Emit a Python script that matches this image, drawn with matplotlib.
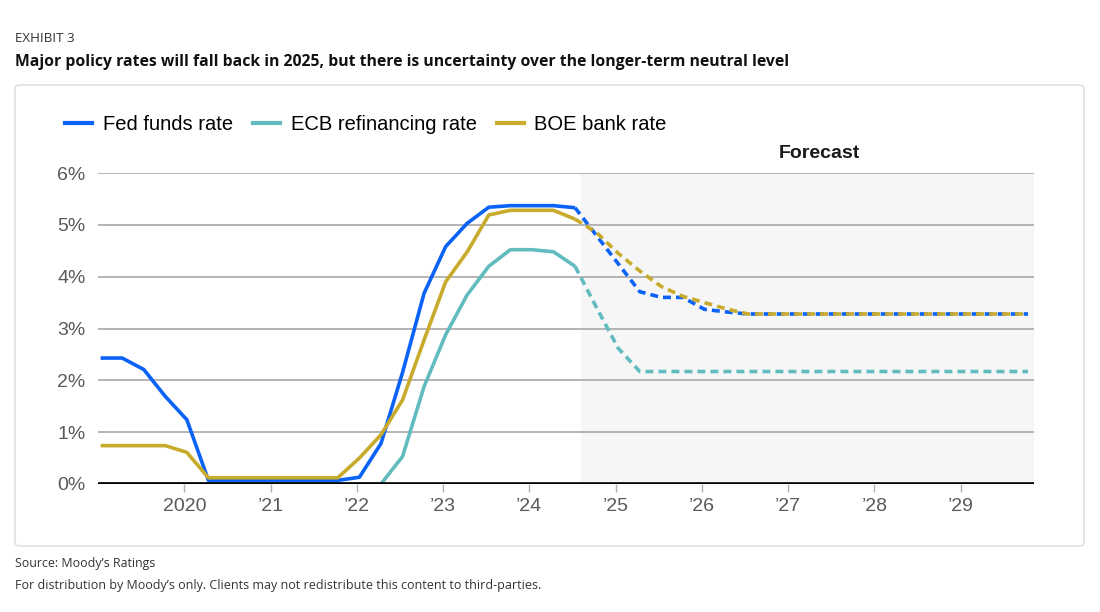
import numpy as np
import matplotlib.pyplot as plt
from matplotlib.patches import FancyBboxPatch
from matplotlib.lines import Line2D

# quarterly values, 2019Q1 .. 2029Q4 (index 22 = last actual, 2024Q3)
fed = [2.43, 2.43, 2.21, 1.69,
       1.24, 0.07, 0.07, 0.07,
       0.07, 0.07, 0.07, 0.07,
       0.13, 0.78, 2.15, 3.68,
       4.58, 5.03, 5.34, 5.37,
       5.37, 5.37, 5.33, 4.79,
       4.25, 3.71, 3.60, 3.60,
       3.37, 3.32, 3.28, 3.28,
       3.28, 3.28, 3.28, 3.28,
       3.28, 3.28, 3.28, 3.28,
       3.28, 3.28, 3.28, 3.28]
ecb = [0, 0, 0, 0,
       0, 0, 0, 0,
       0, 0, 0, 0,
       0, 0, 0.53, 1.88,
       2.88, 3.65, 4.20, 4.52,
       4.52, 4.48, 4.20, 3.40,
       2.62, 2.17, 2.17, 2.17,
       2.17, 2.17, 2.17, 2.17,
       2.17, 2.17, 2.17, 2.17,
       2.17, 2.17, 2.17, 2.17,
       2.17, 2.17, 2.17, 2.17]
boe = [0.74, 0.74, 0.74, 0.74,
       0.61, 0.12, 0.12, 0.12,
       0.12, 0.12, 0.12, 0.12,
       0.50, 0.95, 1.62, 2.78,
       3.90, 4.48, 5.19, 5.28,
       5.28, 5.28, 5.11, 4.85,
       4.45, 4.11, 3.81, 3.62,
       3.50, 3.38, 3.28, 3.28,
       3.28, 3.28, 3.28, 3.28,
       3.28, 3.28, 3.28, 3.28,
       3.28, 3.28, 3.28, 3.28]
series_names = ['Fed funds rate', 'ECB refinancing rate', 'BOE bank rate']
colors = ['#0a62f7', '#62bcbf', '#c8aa2c']
last_actual = 22
forecast_start = 2024.6
years = list(range(2020, 2030))
year_labels = ['2020'] + ['\u2019%02d' % (y % 100) for y in years[1:]]
y_ticks = [0, 1, 2, 3, 4, 5, 6]

x = 2019.03 + 0.25 * np.arange(len(fed))

W, H = 1100, 612
fig = plt.figure(figsize=(W / 100, H / 100), dpi=100)


def fx(px):
    return px / W


def fy(py):
    return 1 - py / H


# card behind the chart
card = FancyBboxPatch((fx(15), fy(546)), fx(1084) - fx(15), fy(85) - fy(546),
                      boxstyle='round,pad=0,rounding_size=0.005',
                      transform=fig.transFigure, facecolor='white',
                      edgecolor='#dcdcdc', linewidth=1, zorder=-5)
fig.patches.append(card)

ax = fig.add_axes([fx(98), fy(484), fx(1034) - fx(98), fy(173) - fy(484)])
ax.set_zorder(2)
ax.set_facecolor('none')
ax.set_xlim(x[0] - 0.03, 2029.85)
ax.set_ylim(0, 6)

ax.axvspan(forecast_start, 2029.85, color='#f6f6f6', zorder=0, lw=0)
for v in y_ticks[1:]:
    ax.axhline(v, color='#a8a8a8', lw=1.2, zorder=1)
ax.axhline(0, color='black', lw=2.6, zorder=5)

for vals, c in zip([fed, ecb, boe], colors):
    ax.plot(x[:last_actual + 1], vals[:last_actual + 1], color=c, lw=2.6,
            solid_capstyle='butt', zorder=3)
    ln, = ax.plot(x[last_actual:], vals[last_actual:], color=c, lw=2.6,
                  zorder=3)
    ln.set_dashes((2.2, 1.4))

for s in ax.spines.values():
    s.set_visible(False)

ax.set_yticks(y_ticks)
ax.set_yticklabels(['%d%%' % v for v in y_ticks], fontsize=14,
                   color='#595959', family='Liberation Sans')
ax.tick_params(axis='y', length=0, pad=9)
ax.set_xticks(years)
ax.set_xticklabels(year_labels, fontsize=14, color='#595959',
                   family='Liberation Sans')
ax.tick_params(axis='x', length=6, width=1, color='#b0b0b0', pad=4)

ax.text(2020 + (819 - 184) / 86.3, 6.38, 'Forecast', ha='center',
        va='center', fontsize=14, fontweight='bold', color='#1a1a1a',
        family='Liberation Sans')

handles = [Line2D([], [], color=c, lw=3) for c in colors]
fig.legend(handles, series_names, loc='center left',
           bbox_to_anchor=(fx(65), fy(125)), ncol=3, frameon=False,
           prop={'family': 'Liberation Sans', 'size': 14.5},
           handlelength=1.35, handletextpad=0.52, columnspacing=1.0,
           borderpad=0, borderaxespad=0)

fig.text(fx(15), fy(38), 'EXHIBIT 3', fontsize=9.6, color='#333333',
         family='Open Sans', va='center')
fig.text(fx(15), fy(62), 'Major policy rates will fall back in 2025, but there '
         'is uncertainty over the longer-term neutral level', fontsize=11.35,
         fontweight='bold', color='#111111', family='Open Sans', va='center')
fig.text(fx(15), fy(563), 'Source: Moody\u2019s Ratings', fontsize=8.9,
         color='#333333', family='Open Sans', va='center')
fig.text(fx(15), fy(585), 'For distribution by Moody\u2019s only. Clients may '
         'not redistribute this content to third-parties.', fontsize=9,
         color='#333333', family='Open Sans', va='center')

fig.savefig('out.png', dpi=100, facecolor='white')
